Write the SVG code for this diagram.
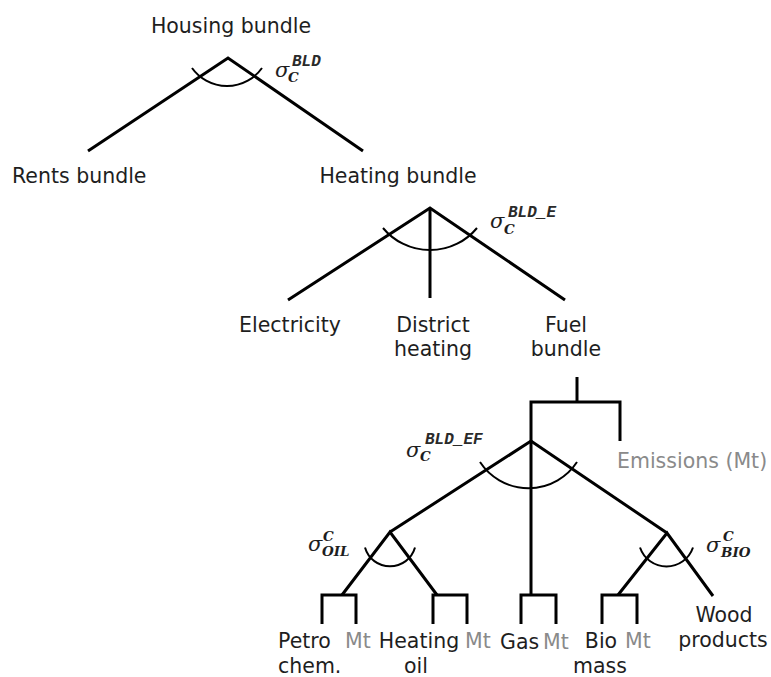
<svg xmlns="http://www.w3.org/2000/svg" width="771" height="677" viewBox="0 0 771 677">
  <style>
    .lbl { font-family: "DejaVu Sans", Verdana, sans-serif; font-size: 20.5px; fill: #1e1e1e; }
    .mt { fill: #8a8a8a; }
    .edge { fill: none; stroke: #000; stroke-width: 3; stroke-linejoin: miter; stroke-linecap: butt; }
    .nest { fill: none; stroke: #000; stroke-width: 2; }
    .sig { font-family: "DejaVu Serif", "Liberation Serif", serif; font-style: italic; font-size: 21px; fill: #1e1e1e; }
    .sub { font-family: "DejaVu Serif", "Liberation Serif", serif; font-style: italic; font-weight: bold; font-size: 13.5px; fill: #1e1e1e; }
    .sup { font-family: "Liberation Mono", "DejaVu Sans Mono", monospace; font-style: italic; font-weight: bold; font-size: 16px; fill: #2a2a2a; }
  </style>
  <rect width="771" height="677" fill="#fff"/>

  <!-- tree connectors -->
  <g id="connectors">
    <!-- housing nest -->
    <polyline class="edge" points="88,151 228,58 363,151"/>
    <!-- heating nest -->
    <polyline class="edge" points="288,300 430,208 565,300"/>
    <line class="edge" x1="430" y1="208" x2="430" y2="298"/>
    <!-- fuel bundle with emissions -->
    <line class="edge" x1="577" y1="377" x2="577" y2="402"/>
    <polyline class="edge" points="531,596 531,402 620,402 620,441"/>
    <polyline class="edge" points="390,532 531,441 667,533"/>
    <!-- oil nest -->
    <polyline class="edge" points="342,595 390,532 437,595"/>
    <!-- bio nest -->
    <polyline class="edge" points="618,595 667,533 713,596"/>
    <!-- fuel / emission brackets -->
    <polyline class="edge" points="322,624 322,595 356,595 356,624"/>
    <polyline class="edge" points="433,624 433,595 467,595 467,624"/>
    <polyline class="edge" points="521,624 521,595 556,595 556,624"/>
    <polyline class="edge" points="602,624 602,595 637,595 637,624"/>
  </g>

  <!-- substitution elasticity arcs -->
  <g id="elasticity-arcs">
    <path class="nest" d="M192,68 A43,43 0 0 0 262,68"/>
    <path class="nest" d="M383,228 A61,61 0 0 0 477,228"/>
    <path class="nest" d="M480,462 A58,58 0 0 0 577,462"/>
    <path class="nest" d="M365,547.5 A26,26 0 0 0 415,547.5"/>
    <path class="nest" d="M640,547.5 A28,28 0 0 0 693,547.5"/>
  </g>

  <!-- elasticity labels -->
  <g id="elasticity-labels">
    <g id="sigma-bld">
      <text class="sig" x="275" y="77">σ</text>
      <text class="sub" x="288" y="82">C</text>
      <text class="sup" x="292" y="66">BLD</text>
    </g>
    <g id="sigma-bld-e">
      <text class="sig" x="490" y="228">σ</text>
      <text class="sub" x="504" y="234">C</text>
      <text class="sup" x="508" y="217">BLD_E</text>
    </g>
    <g id="sigma-bld-ef">
      <text class="sig" x="406" y="457">σ</text>
      <text class="sub" x="420" y="461">C</text>
      <text class="sup" x="425" y="444">BLD_EF</text>
    </g>
    <g id="sigma-oil">
      <text class="sig" x="308" y="551">σ</text>
      <text class="sub" x="322" y="556">OIL</text>
      <text class="sub" x="323" y="541">C</text>
    </g>
    <g id="sigma-bio">
      <text class="sig" x="706" y="552">σ</text>
      <text class="sub" x="721" y="557">BIO</text>
      <text class="sub" x="723" y="541">C</text>
    </g>
  </g>

  <!-- nodes -->
  <g id="housing-bundle"><text class="lbl" x="231" y="33" text-anchor="middle">Housing bundle</text></g>
  <g id="rents-bundle"><text class="lbl" x="12" y="183">Rents bundle</text></g>
  <g id="heating-bundle"><text class="lbl" x="398" y="183" text-anchor="middle">Heating bundle</text></g>
  <g id="electricity"><text class="lbl" x="290" y="332" text-anchor="middle">Electricity</text></g>
  <g id="district-heating">
    <text class="lbl" x="433" y="332" text-anchor="middle">District</text>
    <text class="lbl" x="433" y="356" text-anchor="middle">heating</text>
  </g>
  <g id="fuel-bundle">
    <text class="lbl" x="566" y="332" text-anchor="middle">Fuel</text>
    <text class="lbl" x="566" y="356" text-anchor="middle">bundle</text>
  </g>
  <g id="emissions"><text class="lbl mt" x="617" y="468">Emissions (Mt)</text></g>
  <g id="petro-chem">
    <text class="lbl" x="278" y="648">Petro</text>
    <text class="lbl" x="278" y="673">chem.</text>
  </g>
  <g id="petro-mt"><text class="lbl mt" x="345" y="648">Mt</text></g>
  <g id="heating-oil">
    <text class="lbl" x="419" y="648" text-anchor="middle">Heating</text>
    <text class="lbl" x="416" y="673" text-anchor="middle">oil</text>
  </g>
  <g id="oil-mt"><text class="lbl mt" x="465" y="648">Mt</text></g>
  <g id="gas"><text class="lbl" x="500" y="649">Gas</text></g>
  <g id="gas-mt"><text class="lbl mt" x="543" y="649">Mt</text></g>
  <g id="bio-mass">
    <text class="lbl" x="601" y="648" text-anchor="middle">Bio</text>
    <text class="lbl" x="600" y="673" text-anchor="middle">mass</text>
  </g>
  <g id="bio-mt"><text class="lbl mt" x="625" y="648">Mt</text></g>
  <g id="wood-products">
    <text class="lbl" x="724" y="622" text-anchor="middle">Wood</text>
    <text class="lbl" x="723" y="647" text-anchor="middle">products</text>
  </g>
</svg>
